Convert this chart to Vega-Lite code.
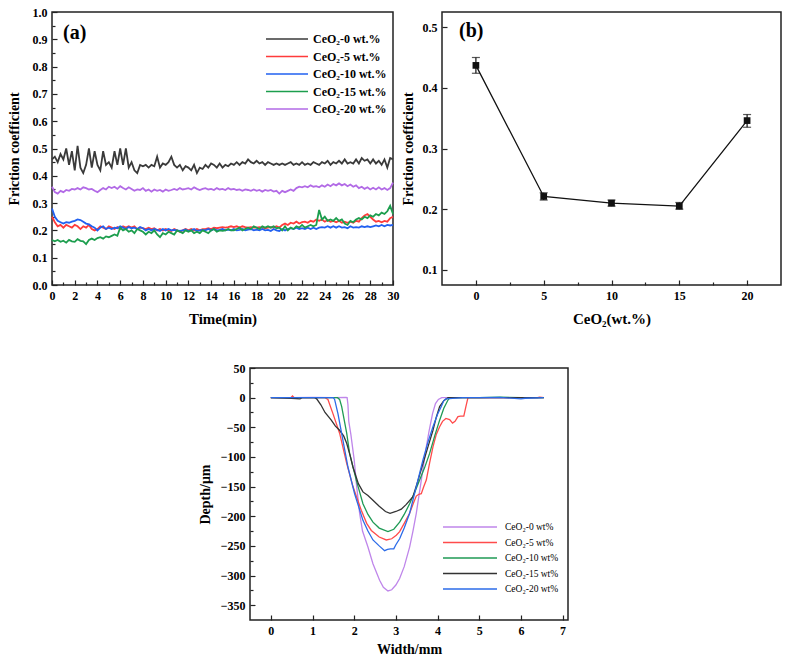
{
  "$schema": "https://vega.github.io/schema/vega-lite/v6.json",
  "padding": {"left": 6, "top": 5, "right": 0, "bottom": 0},
  "background": "white",
  "config": {
    "font": "Liberation Serif",
    "view": {"stroke": "#222222", "strokeWidth": 1.5},
    "axis": {
      "domain": false, "grid": false, "labelOverlap": false,
      "labelFont": "Liberation Serif", "labelFontWeight": "bold", "labelFontSize": 12, "labelColor": "black",
      "titleFont": "Liberation Serif", "titleFontWeight": "bold", "titleFontSize": 15, "titleColor": "black",
      "tickColor": "#222222", "tickWidth": 1.2, "labelPadding": 10
    },
    "title": {"font": "Liberation Serif", "fontWeight": "bold", "fontSize": 20, "color": "black", "anchor": "start", "frame": "group", "baseline": "alphabetic"},
    "legend": {"padding": 0, "labelColor": "black"}
  },
  "resolve": {"scale": {"color": "independent"}, "legend": {"color": "independent"}},
  "datasets": {
    "fric": [
      {"t":0,"w0":0.46,"w5":0.25,"w10":0.28,"w15":0.165,"w20":0.36},
      {"t":0.25,"w0":0.47,"w5":0.23,"w10":0.25,"w15":0.16,"w20":0.34},
      {"t":0.5,"w0":0.45,"w5":0.215,"w10":0.235,"w15":0.165,"w20":0.335},
      {"t":0.75,"w0":0.48,"w5":0.22,"w10":0.23,"w15":0.158,"w20":0.345},
      {"t":1,"w0":0.46,"w5":0.21,"w10":0.225,"w15":0.162,"w20":0.34},
      {"t":1.25,"w0":0.5,"w5":0.22,"w10":0.23,"w15":0.155,"w20":0.348},
      {"t":1.5,"w0":0.44,"w5":0.215,"w10":0.228,"w15":0.165,"w20":0.345},
      {"t":1.75,"w0":0.49,"w5":0.21,"w10":0.232,"w15":0.16,"w20":0.352},
      {"t":2,"w0":0.42,"w5":0.22,"w10":0.235,"w15":0.158,"w20":0.35},
      {"t":2.25,"w0":0.51,"w5":0.215,"w10":0.24,"w15":0.168,"w20":0.355},
      {"t":2.5,"w0":0.43,"w5":0.205,"w10":0.238,"w15":0.162,"w20":0.35},
      {"t":2.75,"w0":0.41,"w5":0.215,"w10":0.232,"w15":0.16,"w20":0.358},
      {"t":3,"w0":0.44,"w5":0.21,"w10":0.225,"w15":0.15,"w20":0.355},
      {"t":3.25,"w0":0.5,"w5":0.22,"w10":0.222,"w15":0.165,"w20":0.35},
      {"t":3.5,"w0":0.43,"w5":0.205,"w10":0.215,"w15":0.17,"w20":0.352},
      {"t":3.75,"w0":0.49,"w5":0.2,"w10":0.21,"w15":0.165,"w20":0.345},
      {"t":4,"w0":0.44,"w5":0.205,"w10":0.2,"w15":0.172,"w20":0.34},
      {"t":4.25,"w0":0.42,"w5":0.215,"w10":0.21,"w15":0.175,"w20":0.348},
      {"t":4.5,"w0":0.49,"w5":0.21,"w10":0.215,"w15":0.17,"w20":0.355},
      {"t":4.75,"w0":0.44,"w5":0.205,"w10":0.205,"w15":0.178,"w20":0.35},
      {"t":5,"w0":0.45,"w5":0.215,"w10":0.21,"w15":0.175,"w20":0.36},
      {"t":5.25,"w0":0.43,"w5":0.21,"w10":0.205,"w15":0.18,"w20":0.355},
      {"t":5.5,"w0":0.49,"w5":0.205,"w10":0.21,"w15":0.185,"w20":0.36},
      {"t":5.75,"w0":0.44,"w5":0.212,"w10":0.208,"w15":0.18,"w20":0.352},
      {"t":6,"w0":0.5,"w5":0.205,"w10":0.215,"w15":0.21,"w20":0.362},
      {"t":6.25,"w0":0.44,"w5":0.215,"w10":0.21,"w15":0.2,"w20":0.355},
      {"t":6.5,"w0":0.5,"w5":0.21,"w10":0.205,"w15":0.205,"w20":0.35},
      {"t":6.75,"w0":0.43,"w5":0.215,"w10":0.212,"w15":0.195,"w20":0.358},
      {"t":7,"w0":0.45,"w5":0.21,"w10":0.208,"w15":0.2,"w20":0.352},
      {"t":7.25,"w0":0.42,"w5":0.215,"w10":0.21,"w15":0.19,"w20":0.345},
      {"t":7.5,"w0":0.41,"w5":0.205,"w10":0.205,"w15":0.205,"w20":0.35},
      {"t":7.75,"w0":0.44,"w5":0.21,"w10":0.212,"w15":0.2,"w20":0.348},
      {"t":8,"w0":0.435,"w5":0.208,"w10":0.208,"w15":0.195,"w20":0.355},
      {"t":8.25,"w0":0.44,"w5":0.205,"w10":0.2,"w15":0.185,"w20":0.345},
      {"t":8.5,"w0":0.43,"w5":0.21,"w10":0.205,"w15":0.195,"w20":0.35},
      {"t":8.75,"w0":0.44,"w5":0.205,"w10":0.2,"w15":0.19,"w20":0.342},
      {"t":9,"w0":0.435,"w5":0.208,"w10":0.205,"w15":0.2,"w20":0.35},
      {"t":9.25,"w0":0.47,"w5":0.2,"w10":0.202,"w15":0.185,"w20":0.345},
      {"t":9.5,"w0":0.43,"w5":0.205,"w10":0.198,"w15":0.175,"w20":0.348},
      {"t":9.75,"w0":0.445,"w5":0.2,"w10":0.205,"w15":0.19,"w20":0.342},
      {"t":10,"w0":0.44,"w5":0.205,"w10":0.2,"w15":0.185,"w20":0.35},
      {"t":10.25,"w0":0.45,"w5":0.2,"w10":0.205,"w15":0.195,"w20":0.345},
      {"t":10.5,"w0":0.47,"w5":0.198,"w10":0.2,"w15":0.19,"w20":0.348},
      {"t":10.75,"w0":0.44,"w5":0.205,"w10":0.202,"w15":0.185,"w20":0.352},
      {"t":11,"w0":0.43,"w5":0.2,"w10":0.2,"w15":0.2,"w20":0.348},
      {"t":11.25,"w0":0.44,"w5":0.195,"w10":0.198,"w15":0.195,"w20":0.355},
      {"t":11.5,"w0":0.42,"w5":0.2,"w10":0.2,"w15":0.19,"w20":0.35},
      {"t":11.75,"w0":0.435,"w5":0.205,"w10":0.203,"w15":0.2,"w20":0.352},
      {"t":12,"w0":0.43,"w5":0.2,"w10":0.198,"w15":0.195,"w20":0.355},
      {"t":12.25,"w0":0.42,"w5":0.205,"w10":0.2,"w15":0.2,"w20":0.35},
      {"t":12.5,"w0":0.44,"w5":0.2,"w10":0.205,"w15":0.19,"w20":0.358},
      {"t":12.75,"w0":0.41,"w5":0.205,"w10":0.198,"w15":0.195,"w20":0.352},
      {"t":13,"w0":0.43,"w5":0.2,"w10":0.2,"w15":0.19,"w20":0.348},
      {"t":13.25,"w0":0.425,"w5":0.205,"w10":0.202,"w15":0.2,"w20":0.352},
      {"t":13.5,"w0":0.44,"w5":0.205,"w10":0.2,"w15":0.195,"w20":0.355},
      {"t":13.75,"w0":0.43,"w5":0.208,"w10":0.205,"w15":0.19,"w20":0.35},
      {"t":14,"w0":0.445,"w5":0.205,"w10":0.2,"w15":0.2,"w20":0.352},
      {"t":14.25,"w0":0.44,"w5":0.21,"w10":0.205,"w15":0.205,"w20":0.348},
      {"t":14.5,"w0":0.43,"w5":0.208,"w10":0.2,"w15":0.195,"w20":0.355},
      {"t":14.75,"w0":0.445,"w5":0.21,"w10":0.202,"w15":0.2,"w20":0.35},
      {"t":15,"w0":0.43,"w5":0.212,"w10":0.205,"w15":0.198,"w20":0.352},
      {"t":15.25,"w0":0.44,"w5":0.21,"w10":0.2,"w15":0.2,"w20":0.348},
      {"t":15.5,"w0":0.435,"w5":0.212,"w10":0.203,"w15":0.205,"w20":0.355},
      {"t":15.75,"w0":0.445,"w5":0.215,"w10":0.2,"w15":0.2,"w20":0.35},
      {"t":16,"w0":0.44,"w5":0.212,"w10":0.205,"w15":0.2,"w20":0.352},
      {"t":16.25,"w0":0.45,"w5":0.215,"w10":0.2,"w15":0.205,"w20":0.348},
      {"t":16.5,"w0":0.44,"w5":0.21,"w10":0.202,"w15":0.21,"w20":0.35},
      {"t":16.75,"w0":0.45,"w5":0.215,"w10":0.205,"w15":0.2,"w20":0.345},
      {"t":17,"w0":0.445,"w5":0.212,"w10":0.2,"w15":0.205,"w20":0.35},
      {"t":17.25,"w0":0.46,"w5":0.21,"w10":0.203,"w15":0.21,"w20":0.348},
      {"t":17.5,"w0":0.45,"w5":0.212,"w10":0.205,"w15":0.205,"w20":0.345},
      {"t":17.75,"w0":0.445,"w5":0.21,"w10":0.2,"w15":0.215,"w20":0.35},
      {"t":18,"w0":0.455,"w5":0.21,"w10":0.203,"w15":0.21,"w20":0.345},
      {"t":18.25,"w0":0.445,"w5":0.212,"w10":0.2,"w15":0.205,"w20":0.348},
      {"t":18.5,"w0":0.45,"w5":0.21,"w10":0.205,"w15":0.215,"w20":0.342},
      {"t":18.75,"w0":0.44,"w5":0.208,"w10":0.2,"w15":0.21,"w20":0.348},
      {"t":19,"w0":0.45,"w5":0.21,"w10":0.202,"w15":0.215,"w20":0.345},
      {"t":19.25,"w0":0.445,"w5":0.212,"w10":0.198,"w15":0.21,"w20":0.348},
      {"t":19.5,"w0":0.44,"w5":0.21,"w10":0.205,"w15":0.215,"w20":0.342},
      {"t":19.75,"w0":0.445,"w5":0.215,"w10":0.2,"w15":0.208,"w20":0.345},
      {"t":20,"w0":0.44,"w5":0.21,"w10":0.198,"w15":0.21,"w20":0.335},
      {"t":20.25,"w0":0.445,"w5":0.22,"w10":0.205,"w15":0.2,"w20":0.345},
      {"t":20.5,"w0":0.44,"w5":0.225,"w10":0.2,"w15":0.215,"w20":0.34},
      {"t":20.75,"w0":0.445,"w5":0.22,"w10":0.205,"w15":0.2,"w20":0.345},
      {"t":21,"w0":0.45,"w5":0.228,"w10":0.208,"w15":0.21,"w20":0.35},
      {"t":21.25,"w0":0.44,"w5":0.225,"w10":0.205,"w15":0.205,"w20":0.345},
      {"t":21.5,"w0":0.445,"w5":0.232,"w10":0.21,"w15":0.215,"w20":0.355},
      {"t":21.75,"w0":0.44,"w5":0.225,"w10":0.205,"w15":0.21,"w20":0.36},
      {"t":22,"w0":0.45,"w5":0.23,"w10":0.208,"w15":0.22,"w20":0.358},
      {"t":22.25,"w0":0.44,"w5":0.232,"w10":0.205,"w15":0.21,"w20":0.362},
      {"t":22.5,"w0":0.445,"w5":0.228,"w10":0.21,"w15":0.215,"w20":0.358},
      {"t":22.75,"w0":0.44,"w5":0.235,"w10":0.205,"w15":0.22,"w20":0.365},
      {"t":23,"w0":0.45,"w5":0.232,"w10":0.21,"w15":0.215,"w20":0.36},
      {"t":23.25,"w0":0.445,"w5":0.24,"w10":0.205,"w15":0.22,"w20":0.362},
      {"t":23.5,"w0":0.44,"w5":0.235,"w10":0.21,"w15":0.275,"w20":0.358},
      {"t":23.75,"w0":0.45,"w5":0.24,"w10":0.212,"w15":0.24,"w20":0.365},
      {"t":24,"w0":0.445,"w5":0.232,"w10":0.21,"w15":0.25,"w20":0.36},
      {"t":24.25,"w0":0.455,"w5":0.238,"w10":0.215,"w15":0.235,"w20":0.368},
      {"t":24.5,"w0":0.44,"w5":0.232,"w10":0.21,"w15":0.24,"w20":0.362},
      {"t":24.75,"w0":0.45,"w5":0.235,"w10":0.215,"w15":0.235,"w20":0.37},
      {"t":25,"w0":0.445,"w5":0.23,"w10":0.21,"w15":0.245,"w20":0.365},
      {"t":25.25,"w0":0.455,"w5":0.235,"w10":0.215,"w15":0.235,"w20":0.372},
      {"t":25.5,"w0":0.445,"w5":0.228,"w10":0.21,"w15":0.24,"w20":0.365},
      {"t":25.75,"w0":0.46,"w5":0.232,"w10":0.212,"w15":0.225,"w20":0.37},
      {"t":26,"w0":0.445,"w5":0.228,"w10":0.208,"w15":0.22,"w20":0.362},
      {"t":26.25,"w0":0.45,"w5":0.232,"w10":0.215,"w15":0.235,"w20":0.368},
      {"t":26.5,"w0":0.445,"w5":0.228,"w10":0.21,"w15":0.23,"w20":0.36},
      {"t":26.75,"w0":0.46,"w5":0.235,"w10":0.212,"w15":0.24,"w20":0.365},
      {"t":27,"w0":0.445,"w5":0.232,"w10":0.21,"w15":0.245,"w20":0.355},
      {"t":27.25,"w0":0.465,"w5":0.245,"w10":0.215,"w15":0.24,"w20":0.36},
      {"t":27.5,"w0":0.455,"w5":0.255,"w10":0.212,"w15":0.25,"w20":0.352},
      {"t":27.75,"w0":0.46,"w5":0.26,"w10":0.215,"w15":0.245,"w20":0.358},
      {"t":28,"w0":0.445,"w5":0.25,"w10":0.212,"w15":0.255,"w20":0.35},
      {"t":28.25,"w0":0.46,"w5":0.24,"w10":0.215,"w15":0.25,"w20":0.356},
      {"t":28.5,"w0":0.445,"w5":0.232,"w10":0.218,"w15":0.26,"w20":0.35},
      {"t":28.75,"w0":0.455,"w5":0.235,"w10":0.215,"w15":0.255,"w20":0.358},
      {"t":29,"w0":0.44,"w5":0.23,"w10":0.22,"w15":0.265,"w20":0.35},
      {"t":29.25,"w0":0.46,"w5":0.235,"w10":0.215,"w15":0.26,"w20":0.355},
      {"t":29.5,"w0":0.43,"w5":0.232,"w10":0.22,"w15":0.27,"w20":0.348},
      {"t":29.75,"w0":0.465,"w5":0.245,"w10":0.218,"w15":0.29,"w20":0.355},
      {"t":30,"w0":0.46,"w5":0.25,"w10":0.22,"w15":0.26,"w20":0.375}
    ],
    "avg": [
      {"c":0,"m":0.437,"lo":0.424,"hi":0.45},
      {"c":5,"m":0.221,"lo":0.215,"hi":0.227},
      {"c":10,"m":0.21,"lo":0.205,"hi":0.215},
      {"c":15,"m":0.205,"lo":0.2,"hi":0.211},
      {"c":20,"m":0.346,"lo":0.335,"hi":0.356}
    ],
    "wear": [
      {"s":"p0","x":0,"y":0},{"s":"p0","x":0.5,"y":0},{"s":"p0","x":1,"y":0.5},{"s":"p0","x":1.5,"y":0},{"s":"p0","x":1.8,"y":0.5},{"s":"p0","x":1.83,"y":0},{"s":"p0","x":1.85,"y":-12},{"s":"p0","x":1.87,"y":-40},{"s":"p0","x":1.92,"y":-62},{"s":"p0","x":2.0,"y":-105},{"s":"p0","x":2.06,"y":-150},{"s":"p0","x":2.13,"y":-195},{"s":"p0","x":2.2,"y":-225},{"s":"p0","x":2.33,"y":-252},{"s":"p0","x":2.45,"y":-280},{"s":"p0","x":2.61,"y":-308},{"s":"p0","x":2.7,"y":-320},{"s":"p0","x":2.81,"y":-326},{"s":"p0","x":2.9,"y":-324},{"s":"p0","x":3.0,"y":-316},{"s":"p0","x":3.09,"y":-305},{"s":"p0","x":3.2,"y":-285},{"s":"p0","x":3.33,"y":-252},{"s":"p0","x":3.41,"y":-225},{"s":"p0","x":3.49,"y":-195},{"s":"p0","x":3.61,"y":-139},{"s":"p0","x":3.73,"y":-83},{"s":"p0","x":3.8,"y":-55},{"s":"p0","x":3.88,"y":-27},{"s":"p0","x":3.95,"y":-10},{"s":"p0","x":4.02,"y":-3},{"s":"p0","x":4.1,"y":0},{"s":"p0","x":5,"y":0},{"s":"p0","x":6,"y":0},{"s":"p0","x":6.5,"y":0},
      {"s":"p5","x":0,"y":0},{"s":"p5","x":0.48,"y":0},{"s":"p5","x":0.52,"y":3},{"s":"p5","x":0.56,"y":0},{"s":"p5","x":1.0,"y":0},{"s":"p5","x":1.3,"y":0},{"s":"p5","x":1.37,"y":-3},{"s":"p5","x":1.49,"y":-27},{"s":"p5","x":1.65,"y":-60},{"s":"p5","x":1.82,"y":-111},{"s":"p5","x":1.97,"y":-150},{"s":"p5","x":2.17,"y":-190},{"s":"p5","x":2.3,"y":-212},{"s":"p5","x":2.41,"y":-224},{"s":"p5","x":2.6,"y":-235},{"s":"p5","x":2.77,"y":-240},{"s":"p5","x":2.9,"y":-238},{"s":"p5","x":3.01,"y":-232},{"s":"p5","x":3.09,"y":-226},{"s":"p5","x":3.2,"y":-212},{"s":"p5","x":3.33,"y":-195},{"s":"p5","x":3.42,"y":-178},{"s":"p5","x":3.49,"y":-166},{"s":"p5","x":3.55,"y":-163},{"s":"p5","x":3.61,"y":-162},{"s":"p5","x":3.67,"y":-150},{"s":"p5","x":3.73,"y":-139},{"s":"p5","x":3.81,"y":-110},{"s":"p5","x":3.89,"y":-83},{"s":"p5","x":3.97,"y":-62},{"s":"p5","x":4.05,"y":-49},{"s":"p5","x":4.12,"y":-40},{"s":"p5","x":4.2,"y":-35},{"s":"p5","x":4.29,"y":-37},{"s":"p5","x":4.36,"y":-43},{"s":"p5","x":4.42,"y":-40},{"s":"p5","x":4.49,"y":-32},{"s":"p5","x":4.55,"y":-31},{"s":"p5","x":4.63,"y":-31},{"s":"p5","x":4.68,"y":-15},{"s":"p5","x":4.73,"y":0},{"s":"p5","x":5.2,"y":0},{"s":"p5","x":5.8,"y":0},{"s":"p5","x":6.4,"y":0},{"s":"p5","x":6.45,"y":1},{"s":"p5","x":6.55,"y":0},
      {"s":"p10","x":0,"y":0},{"s":"p10","x":0.5,"y":0},{"s":"p10","x":1,"y":0},{"s":"p10","x":1.6,"y":0},{"s":"p10","x":1.65,"y":-3},{"s":"p10","x":1.7,"y":-15},{"s":"p10","x":1.82,"y":-60},{"s":"p10","x":1.89,"y":-94},{"s":"p10","x":2.05,"y":-139},{"s":"p10","x":2.21,"y":-179},{"s":"p10","x":2.33,"y":-197},{"s":"p10","x":2.45,"y":-210},{"s":"p10","x":2.6,"y":-220},{"s":"p10","x":2.81,"y":-226},{"s":"p10","x":2.95,"y":-222},{"s":"p10","x":3.09,"y":-210},{"s":"p10","x":3.2,"y":-197},{"s":"p10","x":3.33,"y":-179},{"s":"p10","x":3.45,"y":-160},{"s":"p10","x":3.57,"y":-139},{"s":"p10","x":3.69,"y":-118},{"s":"p10","x":3.81,"y":-94},{"s":"p10","x":3.93,"y":-65},{"s":"p10","x":4.05,"y":-38},{"s":"p10","x":4.15,"y":-18},{"s":"p10","x":4.25,"y":-4},{"s":"p10","x":4.3,"y":0},{"s":"p10","x":5,"y":0},{"s":"p10","x":5.5,"y":1},{"s":"p10","x":6,"y":0},{"s":"p10","x":6.55,"y":0},
      {"s":"p15","x":0,"y":0},{"s":"p15","x":0.5,"y":-1},{"s":"p15","x":0.7,"y":-2},{"s":"p15","x":0.75,"y":0},{"s":"p15","x":1.05,"y":0},{"s":"p15","x":1.1,"y":-2},{"s":"p15","x":1.2,"y":-12},{"s":"p15","x":1.3,"y":-25},{"s":"p15","x":1.45,"y":-38},{"s":"p15","x":1.55,"y":-48},{"s":"p15","x":1.65,"y":-55},{"s":"p15","x":1.75,"y":-65},{"s":"p15","x":1.82,"y":-77},{"s":"p15","x":1.9,"y":-97},{"s":"p15","x":1.97,"y":-117},{"s":"p15","x":2.1,"y":-145},{"s":"p15","x":2.21,"y":-159},{"s":"p15","x":2.33,"y":-165},{"s":"p15","x":2.45,"y":-173},{"s":"p15","x":2.6,"y":-183},{"s":"p15","x":2.75,"y":-192},{"s":"p15","x":2.86,"y":-195},{"s":"p15","x":3.0,"y":-192},{"s":"p15","x":3.13,"y":-188},{"s":"p15","x":3.25,"y":-180},{"s":"p15","x":3.41,"y":-167},{"s":"p15","x":3.53,"y":-140},{"s":"p15","x":3.65,"y":-111},{"s":"p15","x":3.77,"y":-83},{"s":"p15","x":3.89,"y":-55},{"s":"p15","x":3.97,"y":-33},{"s":"p15","x":4.05,"y":-15},{"s":"p15","x":4.15,"y":-5},{"s":"p15","x":4.25,"y":0},{"s":"p15","x":5,"y":0},{"s":"p15","x":6,"y":0},{"s":"p15","x":6.55,"y":0},
      {"s":"p20","x":0,"y":0},{"s":"p20","x":0.5,"y":0},{"s":"p20","x":1,"y":0},{"s":"p20","x":1.5,"y":0},{"s":"p20","x":1.53,"y":-3},{"s":"p20","x":1.61,"y":-27},{"s":"p20","x":1.73,"y":-72},{"s":"p20","x":1.85,"y":-117},{"s":"p20","x":2.01,"y":-162},{"s":"p20","x":2.21,"y":-207},{"s":"p20","x":2.33,"y":-225},{"s":"p20","x":2.45,"y":-240},{"s":"p20","x":2.6,"y":-250},{"s":"p20","x":2.73,"y":-258},{"s":"p20","x":2.8,"y":-256},{"s":"p20","x":2.87,"y":-255},{"s":"p20","x":2.95,"y":-255},{"s":"p20","x":3.0,"y":-248},{"s":"p20","x":3.09,"y":-238},{"s":"p20","x":3.2,"y":-220},{"s":"p20","x":3.33,"y":-195},{"s":"p20","x":3.49,"y":-150},{"s":"p20","x":3.65,"y":-105},{"s":"p20","x":3.77,"y":-75},{"s":"p20","x":3.89,"y":-49},{"s":"p20","x":4.0,"y":-28},{"s":"p20","x":4.09,"y":-15},{"s":"p20","x":4.15,"y":-5},{"s":"p20","x":4.2,"y":-2},{"s":"p20","x":4.6,"y":0},{"s":"p20","x":5,"y":0},{"s":"p20","x":5.5,"y":0.5},{"s":"p20","x":6,"y":-2},{"s":"p20","x":6.1,"y":-1},{"s":"p20","x":6.55,"y":0}
    ]
  },
  "vconcat": [
    {
      "resolve": {"scale": {"color": "independent"}, "legend": {"color": "independent"}},
      "hconcat": [
        {
          "width": 341, "height": 273,
          "title": {"text": "(a)", "offset": -37, "dx": 11},
          "data": {"name": "fric"},
          "transform": [{"fold": ["w0", "w5", "w10", "w15", "w20"], "as": ["k", "v"]}],
          "mark": {"type": "line", "strokeWidth": 1.8},
          "encoding": {
            "x": {"field": "t", "type": "quantitative", "scale": {"domain": [0, 30], "nice": false},
              "axis": {"title": "Time(min)", "labelOverlap": false, "labelFlush": false,
                "values": [0,1,2,3,4,5,6,7,8,9,10,11,12,13,14,15,16,17,18,19,20,21,22,23,24,25,26,27,28,29,30],
                "labelExpr": "datum.value % 2 === 0 ? datum.label : ''",
                "tickSize": {"condition": {"test": "datum.value % 2 === 0", "value": -5}, "value": -3},
                "titlePadding": 8}},
            "y": {"field": "v", "type": "quantitative", "scale": {"domain": [0, 1], "nice": false},
              "axis": {"title": "Friction coefficient", "labelOverlap": false, "titleFontSize": 14, "format": ".1f",
                "values": [0,0.05,0.1,0.15,0.2,0.25,0.3,0.35,0.4,0.45,0.5,0.55,0.6,0.65,0.7,0.75,0.8,0.85,0.9,0.95,1.0],
                "labelExpr": "abs(datum.value*10 - round(datum.value*10)) < 0.001 ? datum.label : ''",
                "tickSize": {"condition": {"test": "abs(datum.value*10 - round(datum.value*10)) < 0.001", "value": -5}, "value": -3},
                "titlePadding": 11}},
            "strokeWidth": {"condition": {"test": "datum.k === 'w0'", "value": 1.3}, "value": 2},
            "color": {"field": "k", "type": "nominal",
              "scale": {"domain": ["w0", "w5", "w10", "w15", "w20"], "range": ["#3a3a3a", "#ff3b3b", "#2160f0", "#1c9e4e", "#b26ae6"]},
              "legend": {"orient": "none", "legendX": 213, "legendY": 21, "title": null, "symbolType": "M-1,0H7.4",
                "symbolSize": 100, "symbolStrokeWidth": 1.6, "labelFont": "Liberation Serif", "labelFontWeight": "bold",
                "labelFontSize": 12, "rowPadding": 5.5, "labelOffset": 36,
                "labelExpr": "'CeO₂-' + slice(datum.label, 1) + ' wt.%'"}}
          }
        },
        {
          "width": 339, "height": 273,
          "title": {"text": "(b)", "offset": -29, "dx": 17},
          "data": {"name": "avg"},
          "encoding": {
            "x": {"field": "c", "type": "quantitative", "scale": {"domain": [-2.5, 22.5], "nice": false},
              "axis": {"title": "CeO₂(wt.%)", "labelOverlap": false, "values": [0,2.5,5,7.5,10,12.5,15,17.5,20],
                "labelExpr": "datum.value % 5 === 0 ? datum.label : ''",
                "tickSize": {"condition": {"test": "datum.value % 5 === 0", "value": -5}, "value": -3},
                "titlePadding": 8}}
          },
          "layer": [
            {
              "mark": {"type": "line", "color": "#111111", "strokeWidth": 1.3},
              "encoding": {
                "y": {"field": "m", "type": "quantitative", "scale": {"domain": [0.075, 0.525], "nice": false},
                  "axis": {"title": "Friction coefficient", "labelOverlap": false, "titleFontSize": 14, "format": ".1f",
                    "values": [0.1,0.15,0.2,0.25,0.3,0.35,0.4,0.45,0.5],
                    "labelExpr": "abs(datum.value*10 - round(datum.value*10)) < 0.001 ? datum.label : ''",
                    "tickSize": {"condition": {"test": "abs(datum.value*10 - round(datum.value*10)) < 0.001", "value": -5}, "value": -3},
                    "titlePadding": 7}}
              }
            },
            {
              "mark": {"type": "errorbar", "color": "#111111", "thickness": 1.2, "ticks": {"size": 8, "thickness": 1.2, "color": "#111111"}},
              "encoding": {
                "y": {"field": "lo", "type": "quantitative", "title": "Friction coefficient"},
                "y2": {"field": "hi"}
              }
            },
            {
              "mark": {"type": "square", "color": "#111111", "filled": true, "opacity": 1, "size": 45},
              "encoding": {
                "y": {"field": "m", "type": "quantitative", "title": "Friction coefficient"}
              }
            }
          ]
        }
      ],
      "spacing": 0
    },
    {
      "resolve": {"scale": {"color": "independent"}, "legend": {"color": "independent"}},
      "hconcat": [
        {
          "width": 145, "height": 10,
          "view": {"stroke": null},
          "data": {"values": [{}]},
          "mark": {"type": "point", "opacity": 0},
          "encoding": {}
        },
        {
          "width": 318, "height": 252,
          "data": {"name": "wear"},
          "mark": {"type": "line", "strokeWidth": 1.3},
          "encoding": {
            "x": {"field": "x", "type": "quantitative", "scale": {"domain": [-0.5, 7.13], "nice": false},
              "axis": {"title": "Width/mm", "labelOverlap": false, "titleFontSize": 14, "format": "d", "values": [0,0.5,1,1.5,2,2.5,3,3.5,4,4.5,5,5.5,6,6.5,7],
                "labelExpr": "datum.value % 1 === 0 ? datum.label : ''",
                "tickSize": {"condition": {"test": "datum.value % 1 === 0", "value": -5}, "value": -3},
                "titlePadding": 6}},
            "y": {"field": "y", "type": "quantitative", "scale": {"domain": [-375, 50], "nice": false},
              "axis": {"title": "Depth/μm", "labelOverlap": false, "titleFontSize": 14,
                "values": [-350,-325,-300,-275,-250,-225,-200,-175,-150,-125,-100,-75,-50,-25,0,25,50],
                "labelExpr": "datum.value % 50 === 0 ? datum.label : ''",
                "tickSize": {"condition": {"test": "datum.value % 50 === 0", "value": -5}, "value": -3},
                "titlePadding": 8}},
            "color": {"field": "s", "type": "nominal",
              "scale": {"domain": ["p0", "p5", "p10", "p15", "p20"], "range": ["#bf86ea", "#ff4b4b", "#1f9a55", "#333333", "#2b6be8"]},
              "legend": {"orient": "none", "legendX": 192, "legendY": 153, "title": null, "symbolType": "M-1,0H9.8",
                "symbolSize": 100, "symbolStrokeWidth": 1.5, "labelFont": "Liberation Serif", "labelFontWeight": "normal",
                "labelFontSize": 9.5, "rowPadding": 4.5, "labelOffset": 51,
                "labelExpr": "'CeO₂-' + slice(datum.label, 1) + ' wt%'"}}
          }
        }
      ],
      "spacing": 0
    }
  ],
  "spacing": 34
}
